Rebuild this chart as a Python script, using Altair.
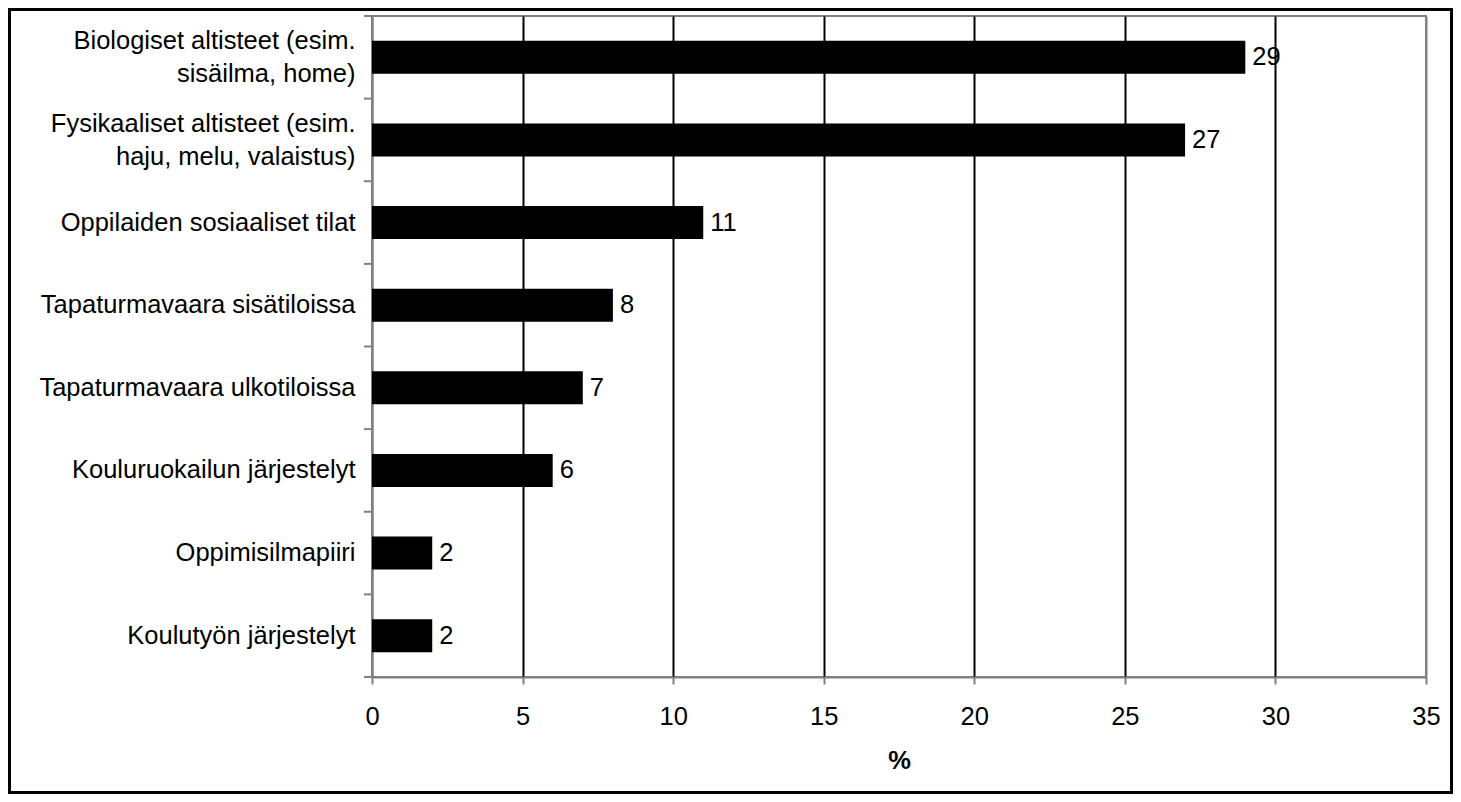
import altair as alt
import pandas as pd

categories = [
    "Biologiset altisteet (esim.|sisäilma, home)",
    "Fysikaaliset altisteet (esim.|haju, melu, valaistus)",
    "Oppilaiden sosiaaliset tilat",
    "Tapaturmavaara sisätiloissa",
    "Tapaturmavaara ulkotiloissa",
    "Kouluruokailun järjestelyt",
    "Oppimisilmapiiri",
    "Koulutyön järjestelyt",
]
values = [29, 27, 11, 8, 7, 6, 2, 2]
x_ticks = [0, 5, 10, 15, 20, 25, 30, 35]

df = pd.DataFrame({"cat": categories, "val": values})

W, H = 1054, 661
FONT = "Liberation Sans"
GRAY = "#808080"
FS = 25.5

yscale = alt.Scale(domain=categories, paddingInner=0, paddingOuter=0)

bars = alt.Chart(df).mark_bar(size=33, color="black").encode(
    x=alt.X(
        "val:Q",
        scale=alt.Scale(domain=[0, 35], nice=False, zero=True),
        axis=alt.Axis(
            values=x_ticks,
            title="%",
            titleFont=FONT,
            titleFontSize=FS,
            titleFontWeight="bold",
            titleColor="black",
            titlePadding=19,
            labelFont=FONT,
            labelFontSize=FS,
            labelColor="black",
            labelPadding=20,
            labelFlush=False,
            tickSize=7,
            tickColor=GRAY,
            tickWidth=2,
            domainColor=GRAY,
            domainWidth=2,
            grid=True,
            gridColor={"condition": {"test": "datum.value === 0 || datum.value === 35", "value": GRAY}, "value": "black"},
            gridWidth=2,
            gridOpacity=1,
        ),
    ),
    y=alt.Y(
        "cat:N",
        sort=categories,
        scale=yscale,
        axis=alt.Axis(
            title=None,
            labelExpr="split(datum.label, '|')",
            labelFont=FONT,
            labelFontSize=FS,
            labelColor="black",
            labelLineHeight=33,
            labelOffset={"condition": {"test": "indexof(datum.label, '|') >= 0", "value": -16}, "value": 0},
            labelPadding=17,
            labelLimit=600,
            ticks=False,
            domainColor=GRAY,
            domainWidth=2,
        ),
    ),
)

labels = alt.Chart(df).mark_text(
    align="left", baseline="middle", dx=7, font=FONT, fontSize=FS, color="black"
).encode(
    x=alt.X("val:Q"),
    y=alt.Y("cat:N", sort=categories),
    text=alt.Text("val:Q"),
)

yticks = alt.Chart(df).mark_rule(color=GRAY, strokeWidth=2).encode(
    y=alt.Y("cat:N", sort=categories, bandPosition=0),
    x=alt.value(-8),
    x2=alt.value(0),
)

bottom_tick = alt.Chart(df.head(1)).mark_rule(color=GRAY, strokeWidth=2).encode(
    y=alt.value(H),
    x=alt.value(-8),
    x2=alt.value(0),
)

frame = alt.Chart(df.head(1)).mark_rect(
    filled=False, stroke="black", strokeWidth=3
).encode(
    x=alt.value(-362.5),
    x2=alt.value(1079.5),
    y=alt.value(-6.5),
    y2=alt.value(776.5),
)

chart = alt.layer(bars, labels, yticks, bottom_tick, frame).properties(
    width=W, height=H, padding=0, background="white"
).configure_view(stroke=GRAY, strokeWidth=2)

chart.save("out.html", embed_options={"renderer": "svg", "actions": False})
